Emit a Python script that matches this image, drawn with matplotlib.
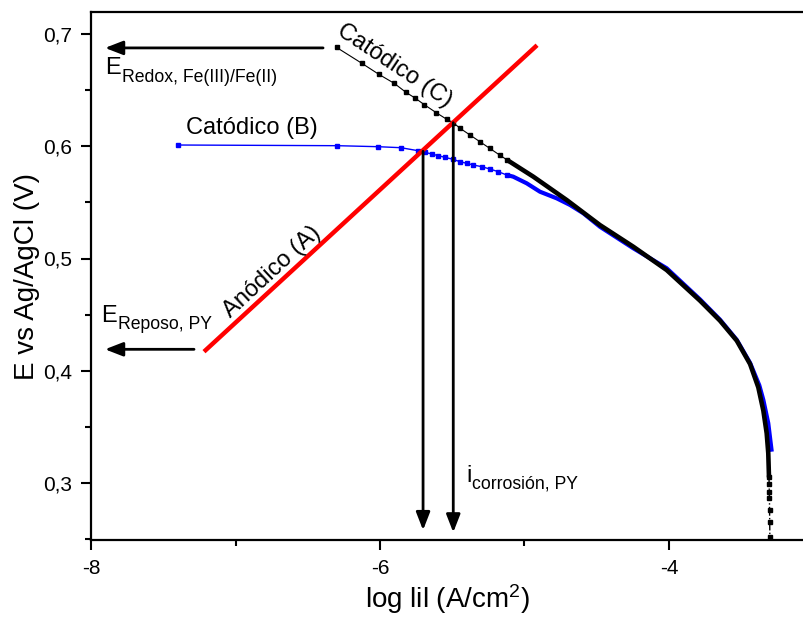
import matplotlib
matplotlib.use("Agg")
import matplotlib.pyplot as plt
from matplotlib.ticker import FixedLocator

plt.rcParams['font.family'] = ['Liberation Sans', 'DejaVu Sans']
plt.rcParams['mathtext.fontset'] = 'custom'
plt.rcParams['mathtext.rm'] = 'Liberation Sans'
plt.rcParams['mathtext.it'] = 'Liberation Sans:italic'
plt.rcParams['mathtext.bf'] = 'Liberation Sans:bold'

# ---- data ----
# Anodic branch (A), red straight line
anodic_x = [-7.218, -4.913]
anodic_y = [0.417, 0.690]

# Cathodic (C), black: sparse upper part (markers) and dense lower part
catC_sparse_x = [-6.300, -6.127, -6.007, -5.901, -5.820, -5.758, -5.693, -5.612,
                 -5.538, -5.493, -5.446, -5.377, -5.308, -5.239, -5.170, -5.123]
catC_sparse_y = [0.688, 0.674, 0.664, 0.656, 0.648, 0.643, 0.637, 0.630,
                 0.624, 0.621, 0.616, 0.610, 0.604, 0.598, 0.592, 0.588]
catC_dense_x = [-5.123, -4.939, -4.708, -4.478, -4.247, -4.016, -3.785, -3.647,
                -3.531, -3.439, -3.382, -3.347, -3.324, -3.313, -3.308]
catC_dense_y = [0.588, 0.5729, 0.5521, 0.5298, 0.5105, 0.4897, 0.4624, 0.4446,
                0.4268, 0.4060, 0.3852, 0.3644, 0.3443, 0.3265, 0.305]
catC_tail_x = [-3.308, -3.307, -3.306, -3.305, -3.304, -3.303, -3.302]
catC_tail_y = [0.305, 0.299, 0.292, 0.287, 0.276, 0.265, 0.252]

# Cathodic (B), blue
catB_sparse_x = [-7.398, -6.295, -6.012, -5.855, -5.735, -5.689, -5.642, -5.597,
                 -5.550, -5.493, -5.446, -5.400, -5.354, -5.296, -5.239, -5.181, -5.123]
catB_sparse_y = [0.6011, 0.6005, 0.5996, 0.5987, 0.5960, 0.5946, 0.5931, 0.5916,
                 0.5901, 0.5883, 0.5862, 0.5848, 0.5833, 0.5818, 0.5797, 0.5773, 0.5744]
catB_dense_x = [-5.123, -5.078, -4.985, -4.893, -4.777, -4.685, -4.593, -4.478,
                -4.247, -4.016, -3.785, -3.647, -3.531, -3.439, -3.375, -3.347,
                -3.313, -3.289]
catB_dense_y = [0.5744, 0.5729, 0.5670, 0.5595, 0.5536, 0.5477, 0.5403, 0.5283,
                0.5091, 0.4913, 0.4635, 0.4455, 0.4275, 0.4070, 0.3870, 0.3739,
                0.3532, 0.3279]

# Arrows (tail x, tail y, tip x, tip y)
arrow_redox = [-6.394, 0.6876, -7.903, 0.6876]
arrow_reposo = [-7.287, 0.4191, -7.903, 0.4191]
arrow_icorr_B = [-5.702, 0.5955, -5.702, 0.258]
arrow_icorr_C = [-5.493, 0.621, -5.493, 0.256]

xticks = [-8, -6, -4]
xtick_labels = ['-8', '-6', '-4']
xminor = [-7, -5, -3]
yticks = [0.3, 0.4, 0.5, 0.6, 0.7]
ytick_labels = ['0,3', '0,4', '0,5', '0,6', '0,7']
yminor = [0.25, 0.35, 0.45, 0.55, 0.65]

# ---- figure ----
fig = plt.figure(figsize=(8.04, 6.26), dpi=100)
ax = fig.add_axes([91/804, 86/626, 713/804, 528/626])

ax.plot(catB_sparse_x, catB_sparse_y, '-', color='#0000ff', lw=1.0,
        marker='s', ms=2.5, mec='#0000ff', mfc='#0000ff')
ax.plot(catB_dense_x, catB_dense_y, '-', color='#0000ff', lw=3.0,
        solid_capstyle='butt', solid_joinstyle='round')

ax.plot(catC_sparse_x, catC_sparse_y, '-', color='black', lw=0.8,
        marker='s', ms=2.5, mec='black', mfc='black')
ax.plot(catC_dense_x, catC_dense_y, '-', color='black', lw=3.3,
        solid_capstyle='butt', solid_joinstyle='round')
ax.plot(catC_tail_x, catC_tail_y, '-.', color='black', lw=1.0,
        marker='s', ms=3, mec='black', mfc='black')

ax.plot(anodic_x, anodic_y, '-', color='#ff0000', lw=3.2, solid_capstyle='butt')

aprops = dict(arrowstyle='-|>,head_length=0.9,head_width=0.35', mutation_scale=12,
              lw=2.0, color='black', shrinkA=0, shrinkB=0)
for a in (arrow_redox, arrow_reposo, arrow_icorr_B, arrow_icorr_C):
    ax.annotate('', xy=(a[2], a[3]), xytext=(a[0], a[1]), arrowprops=aprops)

# texts
ax.text(-5.896, 0.6716, 'Catódico (C)', fontsize=17, rotation=-33.6,
        ha='center', va='center', rotation_mode='anchor')
ax.text(-6.886, 0.6164, 'Catódico (B)', fontsize=17, ha='center', va='center')
ax.text(-6.747, 0.4884, 'Anódico (A)', fontsize=17, rotation=42.7,
        ha='center', va='center', rotation_mode='anchor')

# symbol + subscript drawn as separate texts (Origin-style subscripts)
ax.text(-7.903, 0.6644, 'E', fontsize=17, ha='left', va='baseline')
ax.text(-7.785, 0.6572, 'Redox, Fe(III)/Fe(II)', fontsize=12.7, ha='left', va='baseline')
ax.text(-7.931, 0.4434, 'E', fontsize=17, ha='left', va='baseline')
ax.text(-7.813, 0.4372, 'Reposo, PY', fontsize=12.7, ha='left', va='baseline')
ax.text(-5.405, 0.3009, 'i', fontsize=17, ha='left', va='baseline')
ax.text(-5.363, 0.2955, 'corrosión, PY', fontsize=12.7, ha='left', va='baseline')

ax.set_xlim(-8, -8 + 713/144.5)
ax.set_ylim(0.3 - 57/1122.5, 0.7 + 22/1122.5)

ax.set_xticks(xticks)
ax.set_xticklabels(xtick_labels)
ax.xaxis.set_minor_locator(FixedLocator(xminor))
ax.set_yticks(yticks)
ax.set_yticklabels(ytick_labels)
ax.yaxis.set_minor_locator(FixedLocator(yminor))

ax.tick_params(which='major', direction='out', length=7.5, width=1.5,
               labelsize=15, pad=6)
ax.tick_params(which='minor', direction='out', length=4.5, width=1.5)

for s in ('left', 'bottom', 'top'):
    ax.spines[s].set_linewidth(1.6)
ax.spines['right'].set_visible(False)

ax.set_xlabel(r'log lil (A/cm$^\mathrm{2}$)', fontsize=20, labelpad=3)
ax.set_ylabel('E vs Ag/AgCl (V)', fontsize=20, labelpad=2)

fig.savefig('out.png', dpi=100)
